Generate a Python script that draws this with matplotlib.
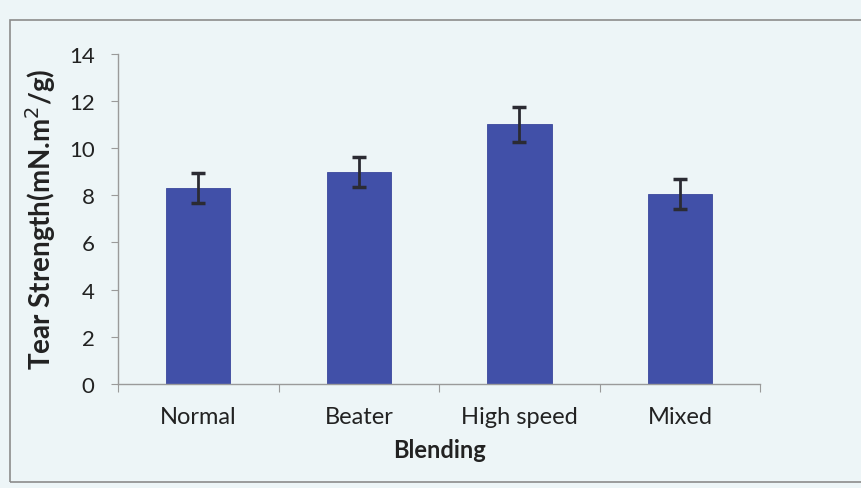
import matplotlib
matplotlib.use("Agg")
import matplotlib.pyplot as plt
from matplotlib.patches import Rectangle

categories = ["Normal", "Beater", "High speed", "Mixed"]
tear_strength = [8.3, 9.0, 11.0, 8.05]
tear_error = [0.65, 0.63, 0.73, 0.65]
y_ticks = [0, 2, 4, 6, 8, 10, 12, 14]

plt.rcParams["font.family"] = ["Lato", "DejaVu Sans"]

bg = "#edf5f7"
fig = plt.figure(figsize=(8.62, 4.89), dpi=100, facecolor=bg)
ax = fig.add_axes([0.137, 0.213, 0.745, 0.675], facecolor=bg)

x = range(len(categories))
ax.bar(x, tear_strength, width=0.4, color="#4150a8", edgecolor="#3a479c", linewidth=0.6, zorder=2)
ax.errorbar(x, tear_strength, yerr=tear_error, fmt="none", ecolor="#2b2b33",
            elinewidth=2.0, capsize=5, capthick=2.5, zorder=3)

ax.set_xlim(-0.5, 3.5)
ax.set_ylim(0, 14)
ax.set_yticks(y_ticks)
ax.set_yticklabels([str(v) for v in y_ticks], fontsize=16, color="#222222")

ax.set_xticks([i - 0.5 for i in range(len(categories) + 1)])
ax.set_xticklabels([])
ax.set_xticks(list(x), minor=True)
ax.set_xticklabels(categories, minor=True, fontsize=17, color="#222222")
ax.tick_params(axis="x", which="minor", length=0, pad=16)
ax.tick_params(axis="x", which="major", length=6, color="#9a9a9a", direction="out")
ax.tick_params(axis="y", length=5, color="#9a9a9a", direction="out", pad=12)

for side in ("top", "right"):
    ax.spines[side].set_visible(False)
for side in ("left", "bottom"):
    ax.spines[side].set_color("#9a9a9a")
    ax.spines[side].set_linewidth(1.0)

ax.set_ylabel("Tear Strength(mN.m$^2$/g)", fontsize=20, fontweight="bold",
              color="#222222", labelpad=8)
ax.set_xlabel("Blending", fontsize=17, fontweight="bold", color="#222222", labelpad=8)

# chart frame
fig.patches.append(Rectangle((0.012, 0.012), 1.1, 0.945, transform=fig.transFigure,
                             fill=False, edgecolor="#8c8c8c", linewidth=1.2))

fig.savefig("out.png", dpi=100, facecolor=bg)
